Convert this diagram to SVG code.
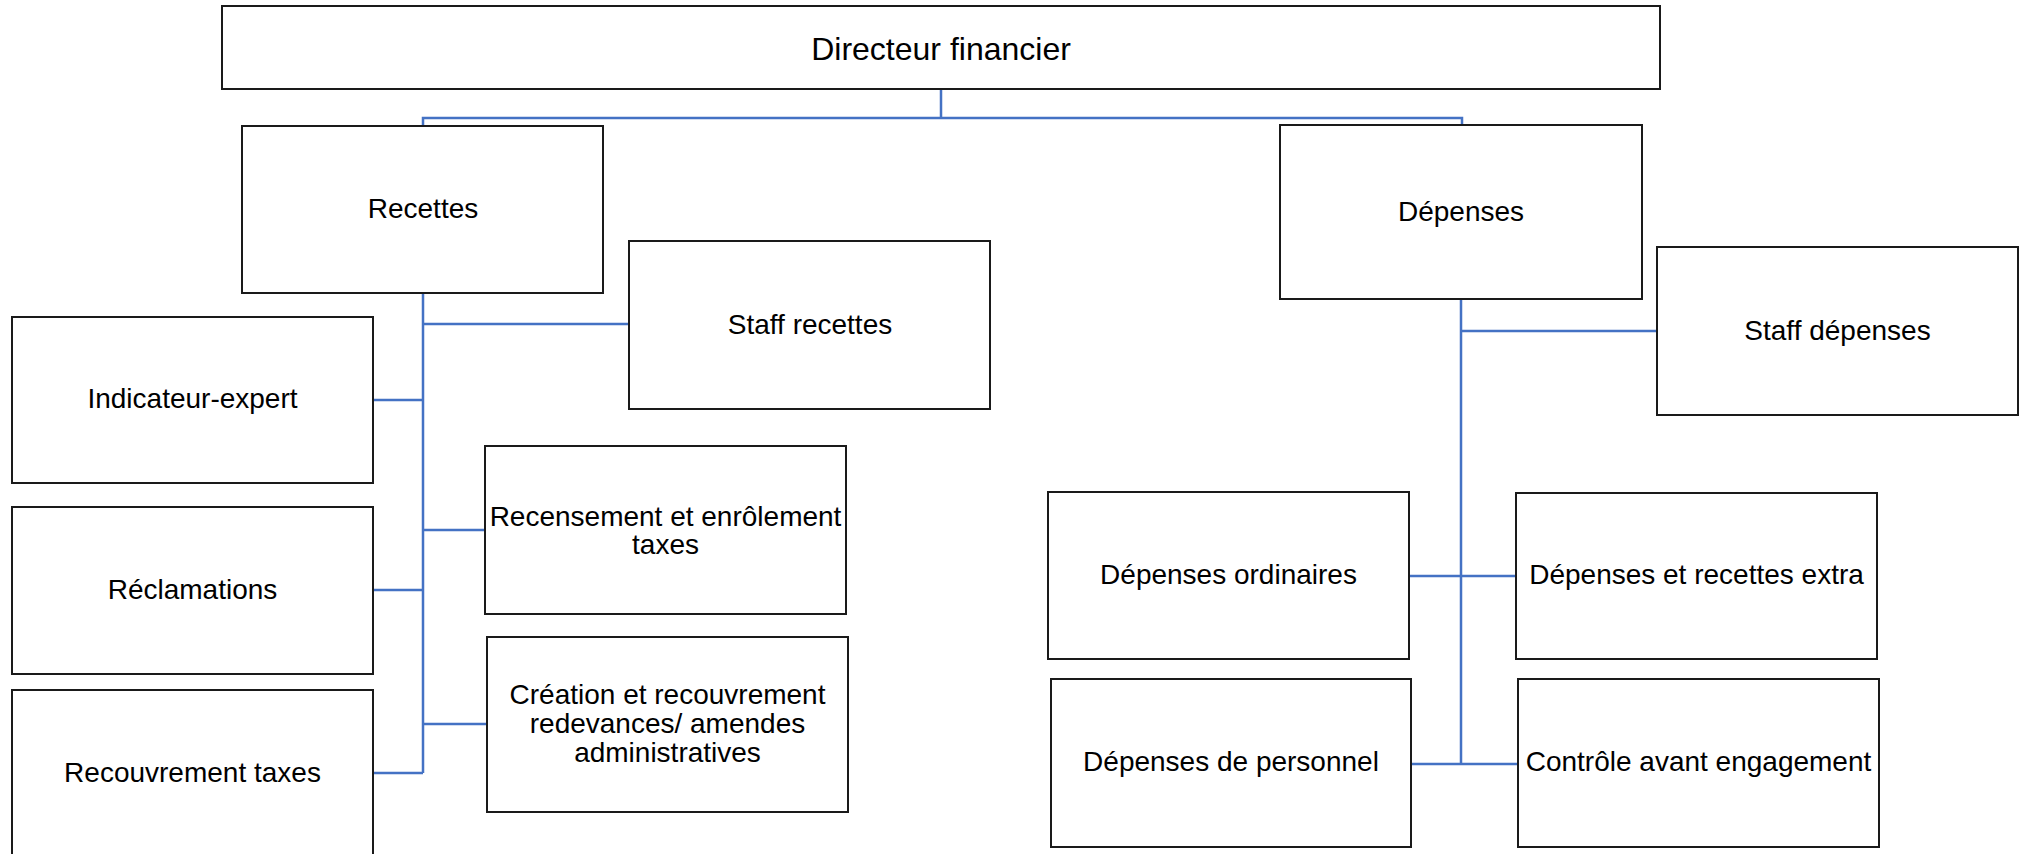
<svg xmlns="http://www.w3.org/2000/svg" width="2022" height="854" viewBox="0 0 2022 854">
<style>
.box{fill:#ffffff;stroke:#1a1a1a;stroke-width:2}
.t{font-family:"Liberation Sans",Arial,sans-serif;font-size:28px;fill:#000;text-anchor:middle}
.big{font-size:32px}
.c{fill:none;stroke:#4472C4;stroke-width:2.5}
</style>
<rect width="2022" height="854" fill="#ffffff"/>
<g id="connectors">
<path class="c" d="M941 89V118M423 125V118H1462V125"/>
<path class="c" d="M423 293V773M423 324H629M373 400H423M423 530H485M373 590H423M423 724H487M373 773H423"/>
<path class="c" d="M1461 299V764M1461 331H1657M1409 576H1516M1411 764H1518"/>
</g>
<g id="directeur"><rect class="box" x="222" y="6" width="1438" height="83"/><text class="t big" x="941" y="60">Directeur financier</text></g>
<g id="recettes"><rect class="box" x="242" y="126" width="361" height="167"/><text class="t" x="423" y="218">Recettes</text></g>
<g id="staff-recettes"><rect class="box" x="629" y="241" width="361" height="168"/><text class="t" x="810" y="334">Staff recettes</text></g>
<g id="indicateur-expert"><rect class="box" x="12" y="317" width="361" height="166"/><text class="t" x="192.5" y="408">Indicateur-expert</text></g>
<g id="reclamations"><rect class="box" x="12" y="507" width="361" height="167"/><text class="t" x="192.5" y="599">Réclamations</text></g>
<g id="recouvrement-taxes"><rect class="box" x="12" y="690" width="361" height="170"/><text class="t" x="192.5" y="782">Recouvrement taxes</text></g>
<g id="recensement"><rect class="box" x="485" y="446" width="361" height="168"/><text class="t" x="665.5" y="525.5">Recensement et enrôlement</text><text class="t" x="665.5" y="554">taxes</text></g>
<g id="creation"><rect class="box" x="487" y="637" width="361" height="175"/><text class="t" x="667.5" y="704">Création et recouvrement</text><text class="t" x="667.5" y="733">redevances/ amendes</text><text class="t" x="667.5" y="762">administratives</text></g>
<g id="depenses"><rect class="box" x="1280" y="125" width="362" height="174"/><text class="t" x="1461" y="221">Dépenses</text></g>
<g id="staff-depenses"><rect class="box" x="1657" y="247" width="361" height="168"/><text class="t" x="1837.5" y="340">Staff dépenses</text></g>
<g id="depenses-ordinaires"><rect class="box" x="1048" y="492" width="361" height="167"/><text class="t" x="1228.5" y="584">Dépenses ordinaires</text></g>
<g id="depenses-recettes-extra"><rect class="box" x="1516" y="493" width="361" height="166"/><text class="t" x="1696.5" y="584">Dépenses et recettes extra</text></g>
<g id="depenses-personnel"><rect class="box" x="1051" y="679" width="360" height="168"/><text class="t" x="1231" y="771">Dépenses de personnel</text></g>
<g id="controle"><rect class="box" x="1518" y="679" width="361" height="168"/><text class="t" x="1698.5" y="771">Contrôle avant engagement</text></g>
</svg>
